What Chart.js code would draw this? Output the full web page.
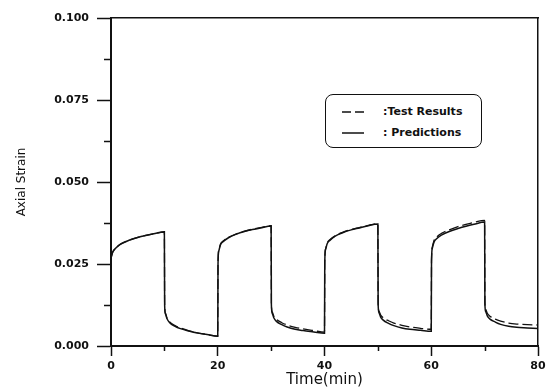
<!DOCTYPE html>
<html>
<head>
<meta charset="utf-8">
<script src="https://cdn.jsdelivr.net/npm/chart.js@4/dist/chart.umd.min.js"></script>
<style>
  html, body { margin: 0; padding: 0; background: #fff; }
  #wrap { position: relative; width: 550px; height: 390px; }
  #legendBox {
    position: absolute; left: 325px; top: 94px; width: 155px; height: 52px;
    border: 1.5px solid #111; border-radius: 8px; background: #fff;
    font-family: "DejaVu Sans", sans-serif; font-weight: bold; font-size: 11px; color: #111;
  }
  .row { position: absolute; left: 0; height: 14px; line-height: 14px; }
  .row svg { position: absolute; left: 16px; top: 2px; }
  .row span { position: absolute; left: 57px; white-space: nowrap; }
</style>
</head>
<body>
<div id="wrap">
  <canvas id="strainChart" width="550" height="390"></canvas>
  <div id="legendBox">
    <div class="row" style="top:10px"><svg width="22" height="10"><line x1="0" y1="5" x2="22" y2="5" stroke="#111" stroke-width="1.5" stroke-dasharray="9,4"/></svg><span>:Test Results</span></div>
    <div class="row" style="top:31px"><svg width="22" height="10"><line x1="0" y1="5" x2="22" y2="5" stroke="#111" stroke-width="1.5"/></svg><span>: Predictions</span></div>
  </div>
</div>
<script>
// time (min)
const times = [
  0, 0.3, 0.7, 1.2, 2, 3.5, 5, 6.5, 8, 10,
  10.05, 10.2, 10.5, 11, 12, 13, 14.5, 16, 18, 20,
  20.05, 20.2, 20.5, 21, 22, 23.5, 25, 26.5, 28, 30,
  30.05, 30.2, 30.5, 31, 32, 33, 34.5, 36, 38, 40,
  40.05, 40.2, 40.5, 41, 42, 43.5, 45, 46.5, 48, 50,
  50.05, 50.2, 50.5, 51, 52, 53, 54.5, 56, 58, 60,
  60.05, 60.2, 60.5, 61, 62, 63.5, 65, 66.5, 68, 70,
  70.05, 70.2, 70.5, 71, 72, 73, 74.5, 76, 78, 80
];

const predictions = [
  0.0268, 0.0285, 0.0295, 0.0303, 0.0312, 0.0323, 0.0331, 0.0337, 0.0342, 0.0348,
  0.0125, 0.0098, 0.0083, 0.0071, 0.0060, 0.0053, 0.0046, 0.0040, 0.0035, 0.0030,
  0.0250, 0.0290, 0.0308, 0.0318, 0.0330, 0.0341, 0.0349, 0.0355, 0.0360, 0.0366,
  0.0125, 0.0100, 0.0086, 0.0075, 0.0065, 0.0058, 0.0051, 0.0047, 0.0043, 0.0039,
  0.0255, 0.0294, 0.0312, 0.0322, 0.0335, 0.0346, 0.0354, 0.0360, 0.0366, 0.0372,
  0.0128, 0.0102, 0.0089, 0.0079, 0.0069, 0.0062, 0.0055, 0.0051, 0.0048, 0.0045,
  0.0258, 0.0298, 0.0316, 0.0327, 0.0339, 0.0350, 0.0358, 0.0365, 0.0371, 0.0378,
  0.0130, 0.0105, 0.0092, 0.0082, 0.0073, 0.0066, 0.0060, 0.0057, 0.0055, 0.0053
];

const testResults = [
  0.0268, 0.0286, 0.0296, 0.0304, 0.0313, 0.0323, 0.0331, 0.0337, 0.0342, 0.0347,
  0.0127, 0.0100, 0.0085, 0.0073, 0.0062, 0.0055, 0.0047, 0.0041, 0.0035, 0.0030,
  0.0255, 0.0292, 0.0310, 0.0320, 0.0331, 0.0342, 0.0350, 0.0356, 0.0361, 0.0367,
  0.0128, 0.0104, 0.0091, 0.0081, 0.0071, 0.0064, 0.0057, 0.0052, 0.0047, 0.0042,
  0.0258, 0.0296, 0.0314, 0.0324, 0.0336, 0.0347, 0.0355, 0.0361, 0.0367, 0.0373,
  0.0132, 0.0107, 0.0095, 0.0086, 0.0077, 0.0070, 0.0063, 0.0058, 0.0054, 0.0051,
  0.0262, 0.0302, 0.0321, 0.0332, 0.0344, 0.0355, 0.0364, 0.0371, 0.0377, 0.0383,
  0.0135, 0.0112, 0.0100, 0.0091, 0.0082, 0.0076, 0.0070, 0.0067, 0.0065, 0.0064
];

const xTicks = [0, 20, 40, 60, 80];
const yTicks = [0, 0.025, 0.05, 0.075, 0.1];
const xMinor = [10, 30, 50, 70];
const yMinor = [0.0125, 0.0375, 0.0625, 0.0875];

const toPoints = arr => times.map((t, i) => ({ x: t, y: arr[i] }));

// short minor ticks, drawn through the scales
const minorTicks = {
  id: 'minorTicks',
  afterDraw(chart) {
    const { ctx, scales: { x, y }, chartArea } = chart;
    ctx.save();
    ctx.strokeStyle = '#111';
    ctx.lineWidth = 1.5;
    ctx.beginPath();
    yMinor.forEach(v => {
      const py = Math.round(y.getPixelForValue(v)) + 0.5;
      ctx.moveTo(chartArea.left - 7, py);
      ctx.lineTo(chartArea.left, py);
    });
    xMinor.forEach(v => {
      const px = Math.round(x.getPixelForValue(v)) + 0.5;
      ctx.moveTo(px, chartArea.bottom);
      ctx.lineTo(px, chartArea.bottom + 5);
    });
    ctx.stroke();
    ctx.restore();
  }
};

const tickFont = { family: 'DejaVu Sans', size: 11, weight: 'bold' };

new Chart(document.getElementById('strainChart'), {
  type: 'line',
  data: {
    datasets: [{
      label: 'Test Results',
      data: toPoints(testResults),
      borderColor: '#111',
      borderWidth: 1.3,
      borderDash: [10, 4],
      pointRadius: 0,
      cubicInterpolationMode: 'monotone',
      fill: false
    }, {
      label: 'Predictions',
      data: toPoints(predictions),
      borderColor: '#111',
      borderWidth: 1.5,
      pointRadius: 0,
      cubicInterpolationMode: 'monotone',
      fill: false
    }]
  },
  options: {
    responsive: false,
    animation: false,
    devicePixelRatio: 1,
    layout: { padding: { left: 0, right: 12, top: 18, bottom: 0 } },
    plugins: {
      legend: { display: false },
      tooltip: { enabled: false }
    },
    scales: {
      x: {
        type: 'linear',
        position: 'bottom',
        min: 0,
        max: 80,
        afterBuildTicks: s => { s.ticks = xTicks.map(v => ({ value: v })); },
        afterFit: s => { s.height = 44; },
        ticks: {
          font: tickFont,
          color: '#111',
          padding: 4,
          maxRotation: 0,
          callback: v => String(v)
        },
        grid: { drawOnChartArea: false, drawTicks: true, tickLength: 10, tickWidth: 1.5, tickColor: '#111' },
        border: { display: true, color: '#111', width: 2 },
        title: {
          display: true,
          text: 'Time(min)',
          font: { family: 'DejaVu Sans', size: 15 },
          color: '#111',
          padding: { top: 0, bottom: 1 }
        }
      },
      y: {
        type: 'linear',
        position: 'left',
        min: 0,
        max: 0.1,
        afterBuildTicks: s => { s.ticks = yTicks.map(v => ({ value: v })); },
        afterFit: s => { s.width = 111; },
        ticks: {
          font: tickFont,
          color: '#111',
          padding: 8,
          callback: v => v.toFixed(3)
        },
        grid: { drawOnChartArea: false, drawTicks: true, tickLength: 14, tickWidth: 1.5, tickColor: '#111' },
        border: { display: true, color: '#111', width: 2 },
        title: {
          display: true,
          text: 'Axial Strain',
          font: { family: 'DejaVu Sans', size: 12 },
          color: '#111',
          padding: { top: 15, bottom: 0 }
        }
      },
      xTop: {
        type: 'linear',
        position: 'top',
        min: 0,
        max: 80,
        afterFit: s => { s.height = 0; },
        ticks: { display: false },
        grid: { display: false, drawTicks: false },
        border: { display: true, color: '#111', width: 1.5 }
      },
      yRight: {
        type: 'linear',
        position: 'right',
        min: 0,
        max: 0.1,
        afterFit: s => { s.width = 0; },
        ticks: { display: false },
        grid: { display: false, drawTicks: false },
        border: { display: true, color: '#111', width: 1.5 }
      }
    }
  },
  plugins: [minorTicks]
});
</script>
</body>
</html>
